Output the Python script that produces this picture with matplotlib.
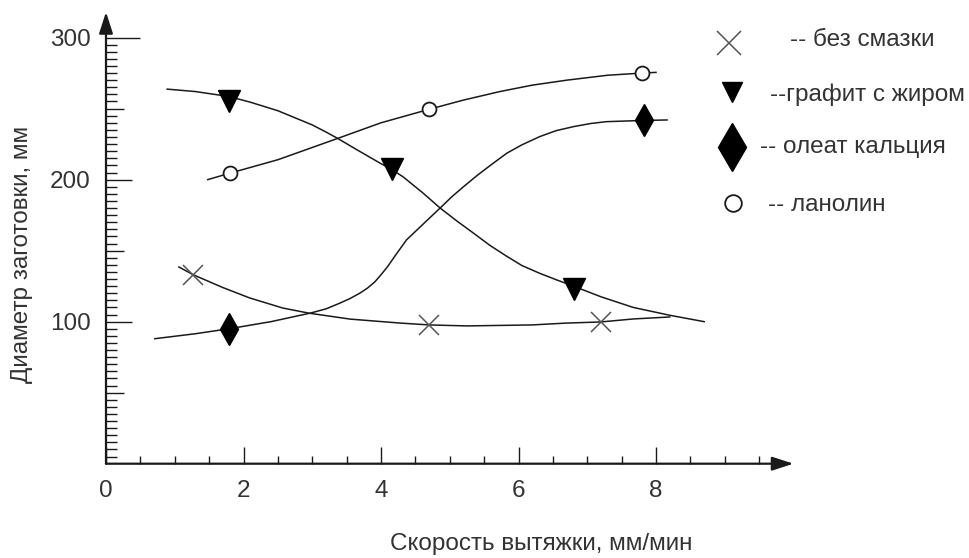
import matplotlib
matplotlib.use("Agg")
import matplotlib.pyplot as plt
from matplotlib.lines import Line2D
from matplotlib.ticker import FixedLocator

plt.rcParams["font.family"] = ["Liberation Sans", "DejaVu Sans"]

# ── данные ──────────────────────────────────────────────────────────────────
# без смазки (крестики)
dry_x = [1.27, 4.70, 7.20]
dry_y = [133.0, 97.5, 99.8]
dry_cx = [1.06, 1.27, 1.70, 2.09, 2.57, 2.95, 3.55, 4.28, 4.70, 5.25, 6.20, 6.70, 7.20, 7.67, 8.20]
dry_cy = [138.5, 133.0, 124.0, 116.7, 109.6, 106.0, 101.8, 99.0, 97.7, 97.0, 97.7, 99.0, 99.8, 101.9, 103.3]

# графит с жиром (треугольники)
graph_x = [1.79, 4.16, 6.80]
graph_y = [255.5, 207.5, 123.0]
graph_cx = [0.89, 1.30, 1.79, 2.10, 2.50, 2.75, 3.00, 3.20, 3.37, 3.65, 3.99, 4.16, 4.32,
            4.60, 4.86, 5.10, 5.34, 5.59, 5.83, 6.05, 6.31, 6.55, 6.80, 7.20, 7.67, 8.20, 8.70]
graph_cy = [263.7, 262.0, 258.5, 254.5, 248.5, 243.5, 238.5, 233.5, 229.0, 221.0, 211.5, 207.0, 202.0,
            191.0, 180.0, 171.0, 162.5, 153.5, 146.0, 139.5, 134.0, 129.5, 125.0, 117.5, 110.0, 104.5, 100.0]

# олеат кальция (ромбы)
oleat_x = [1.79, 7.83]
oleat_y = [95.0, 242.0]
oleat_cx = [0.71, 1.30, 1.79, 2.40, 2.97, 3.20, 3.40, 3.55, 3.69, 3.80, 3.91, 4.00, 4.10, 4.20,
            4.37, 4.62, 4.86, 5.02, 5.20, 5.40, 5.59, 5.83, 6.05, 6.31, 6.55, 6.80, 7.05, 7.28,
            7.72, 8.16]
oleat_cy = [88.0, 91.5, 95.0, 100.0, 106.0, 109.0, 113.0, 116.3, 120.0, 123.5, 128.0, 133.0, 139.0, 146.0,
            157.5, 169.0, 180.0, 187.5, 195.0, 203.0, 210.0, 218.6, 224.5, 230.3, 234.5, 237.3, 239.5, 240.8,
            241.5, 242.0]

# ланолин (кружки)
lan_x = [1.80, 4.70, 7.80]
lan_y = [204.5, 249.5, 275.0]
lan_cx = [1.48, 1.80, 2.50, 3.37, 4.00, 4.70, 5.20, 5.73, 6.20, 6.70, 7.30, 7.80, 8.00]
lan_cy = [200.0, 204.5, 214.0, 229.0, 240.0, 249.5, 256.0, 262.0, 266.5, 270.0, 273.5, 275.0, 275.5]

legend_labels = ["-- без смазки", "--графит с жиром", "-- олеат кальция", "-- ланолин"]

x_ticks = [0, 2, 4, 6, 8]
y_ticks = [50, 100, 150, 200, 250, 300]
y_ticklabels = ["", "100", "", "200", "", "300"]

TXT = "#333333"
LINE = "#1a1a1a"
FS = 17.5
W, H = 969, 558


def fx(px):
    return px / W


def fy(py):
    return 1 - py / H


fig = plt.figure(figsize=(W / 100, H / 100), dpi=100)
ax = fig.add_axes([fx(106), fy(463.7), 687.5 / W, 451.7 / H])
ax.set_xlim(0, 10)
ax.set_ylim(0, 318)
for s in ax.spines.values():
    s.set_visible(False)

# оси со стрелками
arrow = dict(arrowstyle="-|>,head_length=1.3,head_width=0.42", lw=1.6,
             color=LINE, shrinkA=0, shrinkB=0)
ax.annotate("", xy=(1, 0), xytext=(0, 0), xycoords="axes fraction",
            arrowprops=arrow, annotation_clip=False)
ax.annotate("", xy=(0, 1), xytext=(0, 0), xycoords="axes fraction",
            arrowprops=arrow, annotation_clip=False)

# ── кривые ──
for cx, cy in [(dry_cx, dry_cy), (graph_cx, graph_cy),
               (oleat_cx, oleat_cy), (lan_cx, lan_cy)]:
    ax.plot(cx, cy, color=LINE, lw=1.1, zorder=2, solid_joinstyle="round")

ax.plot(dry_x, dry_y, ls="none", marker="x", ms=15, mew=1.1, color="#555555", zorder=3)
ax.plot(graph_x, graph_y, ls="none", marker="v", ms=16, color="black", zorder=3)
ax.plot(oleat_x, oleat_y, ls="none", marker="d", ms=16, color="black", zorder=3)
ax.plot(lan_x, lan_y, ls="none", marker="o", ms=10, mew=1.3, mfc="white",
        mec=LINE, zorder=3)

# ── деления ──
ax.xaxis.set_major_locator(FixedLocator(x_ticks))
ax.xaxis.set_minor_locator(FixedLocator([i * 0.5 for i in range(1, 20)]))
ax.yaxis.set_major_locator(FixedLocator(y_ticks))
ax.yaxis.set_minor_locator(FixedLocator(list(range(5, 300, 5))))
ax.set_yticklabels(y_ticklabels)
ax.tick_params(axis="both", which="both", direction="in", color=LINE,
               labelcolor=TXT, labelsize=FS, width=1.0,
               top=False, right=False)
ax.tick_params(axis="x", which="major", length=12.5, pad=12)
ax.tick_params(axis="x", which="minor", length=5.5)
ax.tick_params(axis="y", which="major", length=18.5, pad=11)
ax.tick_params(axis="y", which="minor", length=8)

tick_len = {50: 13, 100: 18.7, 150: 13, 200: 18.7, 250: 13, 300: 24.5}
for t, v in zip(ax.yaxis.get_major_ticks(), y_ticks):
    t.tick1line.set_markersize(tick_len[v])

# ── подписи осей ──
fig.text(fx(541), fy(550), "Скорость вытяжки, мм/мин", ha="center",
         va="baseline", fontsize=FS, color=TXT)
fig.text(fx(22), fy(254), "Диаметр заготовки, мм", ha="center",
         va="center", rotation=90, fontsize=FS, color=TXT)

# ── легенда ──
leg_marker_x = [729, 732, 732, 733]
leg_marker_y = [43, 92, 147, 203]
leg_text_x = [790, 770, 760, 768]
leg_text_y = [40, 95, 147, 205]
leg_styles = [
    dict(marker="x", ms=17, mew=1.1, color="#555555"),
    dict(marker="v", ms=15, color="black"),
    dict(marker="d", ms=24, color="black"),
    dict(marker="o", ms=12, mew=1.3, mfc="white", mec=LINE),
]
for mx, my, tx, ty, lab, st in zip(leg_marker_x, leg_marker_y, leg_text_x,
                                   leg_text_y, legend_labels, leg_styles):
    fig.add_artist(Line2D([fx(mx)], [fy(my)], ls="none",
                          transform=fig.transFigure, **st))
    fig.text(fx(tx), fy(ty), lab, ha="left", va="center", fontsize=FS, color=TXT)

fig.savefig("out.png", dpi=100)
